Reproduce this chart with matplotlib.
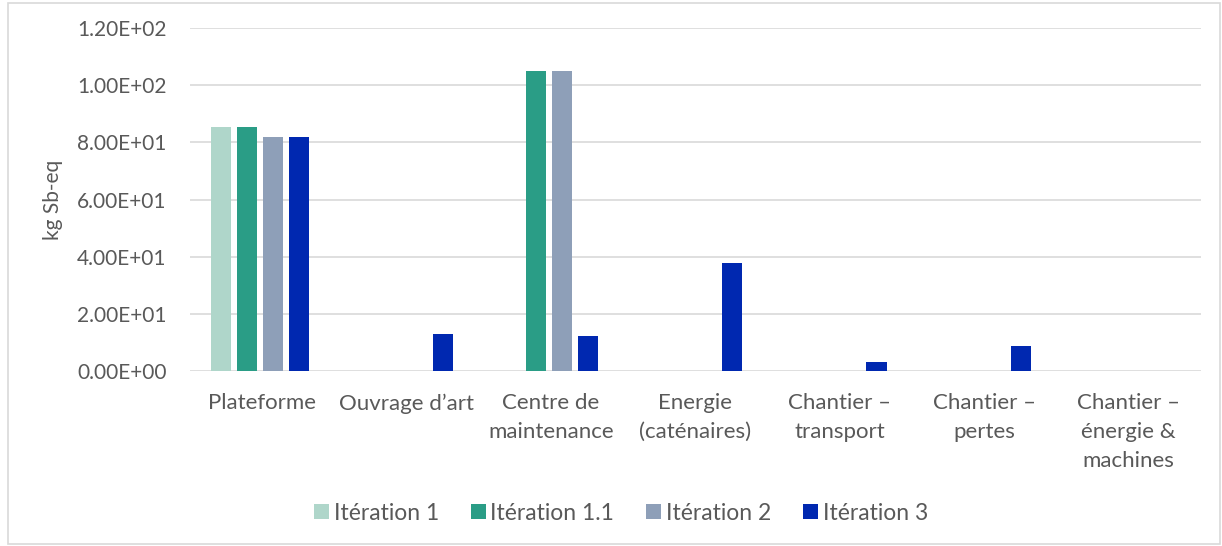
import numpy as np
import matplotlib.pyplot as plt
from matplotlib.patches import Rectangle

plt.rcParams['font.family'] = ['Lato', 'DejaVu Sans']

# catégories et valeurs (kg Sb-eq)
categories = ['Plateforme', 'Ouvrage d\u2019art', 'Centre de\nmaintenance', 'Energie\n(caténaires)',
              'Chantier \u2013\ntransport', 'Chantier \u2013\npertes', 'Chantier \u2013\nénergie &\nmachines']
iter_1 = [85.3, 0, 0, 0, 0, 0, 0]
iter_1_1 = [85.3, 0, 105.0, 0, 0, 0, 0]
iter_2 = [81.8, 0, 105.0, 0, 0, 0, 0]
iter_3 = [81.8, 13.0, 12.4, 37.8, 3.0, 8.6, 0]

series = [('Itération 1', iter_1, '#afd6ca'),
          ('Itération 1.1', iter_1_1, '#2a9d86'),
          ('Itération 2', iter_2, '#8e9fb8'),
          ('Itération 3', iter_3, '#0028b0')]

txt = '#595959'
fig = plt.figure(figsize=(12.22, 5.46), dpi=100)
ax = fig.add_axes([0.1555, 0.3205, 0.827, 0.628])

x = np.arange(len(categories))
w = 0.14
step = 0.18
for i, (name, vals, col) in enumerate(series):
    ax.bar(x + (i - 1.5) * step - 0.015, vals, width=w, color=col, label=name, zorder=3)

ax.set_xlim(-0.5, len(categories) - 0.5)
ax.set_ylim(0, 120)
ax.set_yticks(np.arange(0, 121, 20))
ax.set_yticklabels([f'{v:.2E}' for v in np.arange(0, 121, 20)], color=txt, fontsize=15)
ax.set_xticks(x)
ax.set_xticklabels(categories, color=txt, fontsize=16, linespacing=1.55, va='top')
ax.tick_params(axis='y', length=0, pad=17)
ax.tick_params(axis='x', length=0, pad=16)
ax.grid(axis='y', color='#d9d9d9', linewidth=1.2, zorder=0)
for s in ax.spines.values():
    s.set_visible(False)
ax.set_ylabel('kg Sb-eq', color=txt, fontsize=15, labelpad=10)

ax.legend(loc='center', bbox_to_anchor=(0.5 + 10 / 1222, 1 - 513 / 546), bbox_transform=fig.transFigure,
          ncol=4, frameon=False, fontsize=16.5, labelcolor=txt,
          handlelength=0.65, handleheight=0.65, handletextpad=0.2, columnspacing=1.4)

# cadre du graphique
fig.patches.append(Rectangle((8 / 1222, 2 / 546), 1212 / 1222, 541 / 546, transform=fig.transFigure,
                             fill=False, edgecolor='#d9d9d9', linewidth=1.2))

fig.savefig('out.png', dpi=100)
